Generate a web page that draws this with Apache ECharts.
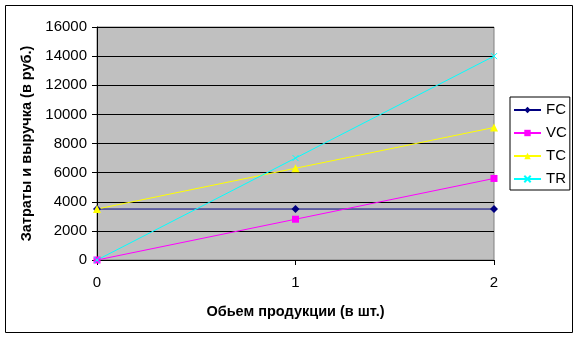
<!DOCTYPE html>
<html><head><meta charset="utf-8">
<script src="https://cdn.jsdelivr.net/npm/echarts@6/dist/echarts.min.js"></script>
<style>html,body{margin:0;padding:0;background:#fff}#c{width:579px;height:339px}</style>
</head><body><div id="c"></div>
<script>
const categories = ['0', '1', '2'];
const fcValues = [3500, 3500, 3500];
const vcValues = [0, 2800, 5600];
const tcValues = [3500, 6300, 9100];
const trValues = [0, 7000, 14000];
const yTicks = { min: 0, max: 16000, interval: 2000 };
const seriesNames = ['FC', 'VC', 'TC', 'TR'];
const xTitle = 'Обьем продукции (в шт.)';
const yTitle = 'Затраты и выручка (в руб.)';

const font = 'Liberation Sans, Arial, sans-serif';
const chart = echarts.init(document.getElementById('c'), null, { renderer: 'canvas' });
const crossPath = 'path://M0,0L10,10M10,0L0,10';
function mk(name, data, color, symbol, size) {
  return {
    name, type: 'line', data, symbol, symbolSize: size, showSymbol: true,
    lineStyle: { color, width: 1 },
    itemStyle: { color: symbol === crossPath ? 'rgba(0,0,0,0)' : color, borderColor: color, borderWidth: symbol === crossPath ? 1 : 0 },
    emphasis: { disabled: true }, animation: false
  };
}
chart.setOption({
  animation: false,
  textStyle: { fontFamily: font },
  graphic: [{ type: 'rect', shape: { x: 5.5, y: 5.5, width: 567, height: 327 }, style: { fill: 'none', stroke: '#000', lineWidth: 1 }, z: -10 }],
  grid: { left: 97, right: 85, top: 27, bottom: 79, show: true, backgroundColor: '#C0C0C0', borderColor: '#808080', borderWidth: 1 },
  legend: {
    orient: 'vertical', left: 510, top: 97,
    data: seriesNames,
    itemWidth: 27, itemHeight: 8, itemGap: 7,
    padding: [5, 3, 3, 3],
    borderColor: '#000', borderWidth: 1, backgroundColor: '#fff',
    textStyle: { fontSize: 15, lineHeight: 16, fontFamily: font, color: '#000' }
  },
  xAxis: {
    type: 'category', data: categories, boundaryGap: false,
    name: xTitle, nameLocation: 'middle', nameGap: 44,
    nameTextStyle: { fontSize: 14.5, fontWeight: 'bold', color: '#000', fontFamily: font },
    axisLine: { lineStyle: { color: '#000' } },
    axisTick: { show: true, length: 5, inside: false, lineStyle: { color: '#000' }, alignWithLabel: true },
    axisLabel: { fontSize: 15, color: '#000', margin: 15, fontFamily: font },
    splitLine: { show: false }
  },
  yAxis: {
    type: 'value', min: yTicks.min, max: yTicks.max, interval: yTicks.interval,
    name: yTitle, nameLocation: 'middle', nameGap: 60,
    nameTextStyle: { fontSize: 14.5, fontWeight: 'bold', color: '#000', fontFamily: font },
    axisLine: { show: true, lineStyle: { color: '#000' } },
    axisTick: { show: true, length: 5, lineStyle: { color: '#000' } },
    axisLabel: { fontSize: 15, color: '#000', margin: 10, fontFamily: font, formatter: v => String(v) },
    splitLine: { show: true, lineStyle: { color: '#000', width: 1 } }
  },
  series: [
    mk('FC', fcValues, '#000080', 'diamond', 8),
    mk('VC', vcValues, '#FF00FF', 'rect', 7),
    mk('TC', tcValues, '#FFFF00', 'triangle', 8),
    mk('TR', trValues, '#00FFFF', crossPath, 6)
  ]
});
</script></body></html>
